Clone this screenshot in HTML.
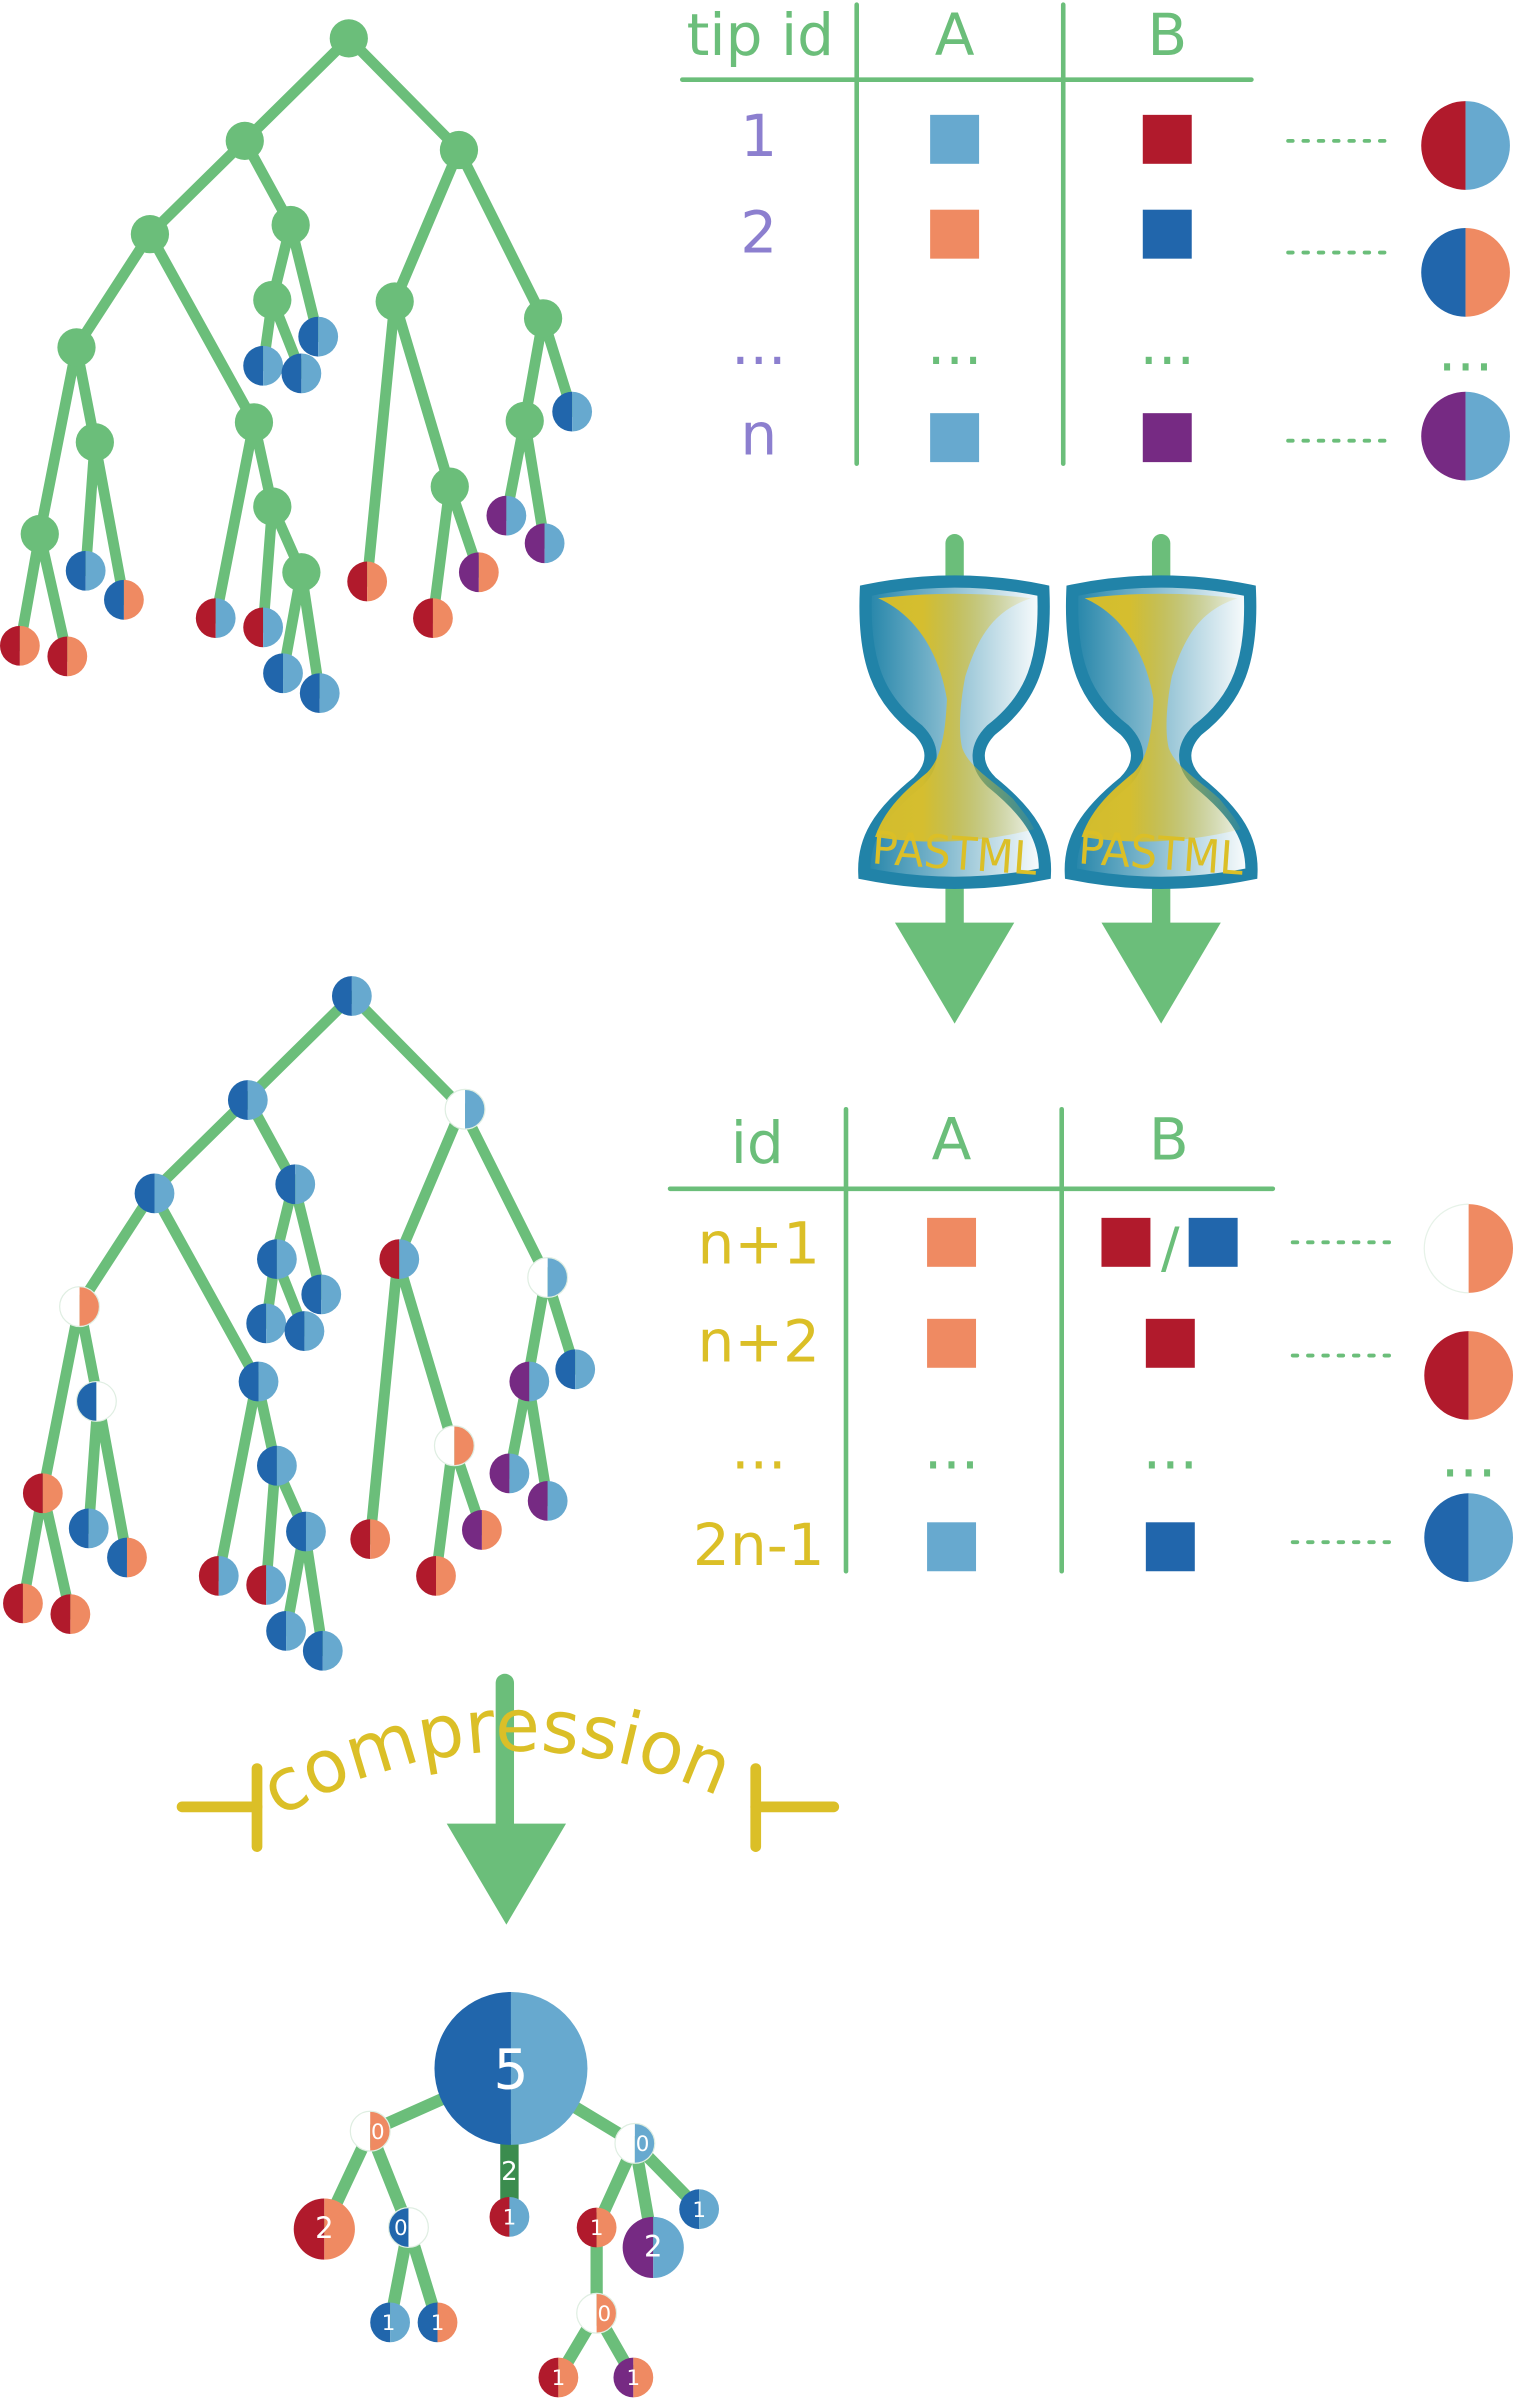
<!DOCTYPE html>
<html><head><meta charset="utf-8"><style>html,body{margin:0;padding:0;background:#fff}svg{display:block}</style></head><body>
<svg width="1513" height="2399" viewBox="0 0 989 1568" xmlns="http://www.w3.org/2000/svg" font-family="DejaVu Sans, Liberation Sans, sans-serif">
<defs>
<path id="L" d="M0-13A13 13 0 0 0 0 13Z"/>
<path id="R" d="M0-13A13 13 0 0 1 0 13Z"/>
<circle id="W" r="13" fill="none" stroke="#dfeee2" stroke-width="0.8"/>
<path id="BL" d="M0-29A29 29 0 0 0 0 29Z"/>
<path id="BR" d="M0-29A29 29 0 0 1 0 29Z"/>
<path id="ML" d="M0-20A20 20 0 0 0 0 20Z"/>
<path id="MR" d="M0-20A20 20 0 0 1 0 20Z"/>
<path id="HL" d="M0-50A50 50 0 0 0 0 50Z"/>
<path id="HR" d="M0-50A50 50 0 0 1 0 50Z"/>
<g id="edges" stroke="#6BBE7A" stroke-width="7" stroke-linecap="round" fill="none">
<path d="M228 25L160 92M228 25L300 98M160 92L98 153M160 92L190 147M190 147L178 196M190 147L208 220M178 196L172 239M178 196L197 244M98 153L50 227M98 153L166 276M50 227L26 349M50 227L62 289M26 349L13 422M26 349L44 429M62 289L56 373M62 289L81 392M166 276L141 404M166 276L178 331M178 331L172 410M178 331L197 374M197 374L185 440M197 374L209 453M300 98L258 197M300 98L355 208M258 197L240 380M258 197L294 318M294 318L283 404M294 318L313 374M355 208L343 275M355 208L374 269M343 275L331 337M343 275L356 355"/>
</g>
<g id="leaves">
<use href="#L" x="13" y="422" fill="#B11A2C"/><use href="#R" x="13" y="422" fill="#EF8A62"/>
<use href="#L" x="44" y="429" fill="#B11A2C"/><use href="#R" x="44" y="429" fill="#EF8A62"/>
<use href="#L" x="56" y="373" fill="#2166AC"/><use href="#R" x="56" y="373" fill="#67A9CF"/>
<use href="#L" x="81" y="392" fill="#2166AC"/><use href="#R" x="81" y="392" fill="#EF8A62"/>
<use href="#L" x="141" y="404" fill="#B11A2C"/><use href="#R" x="141" y="404" fill="#67A9CF"/>
<use href="#L" x="172" y="410" fill="#B11A2C"/><use href="#R" x="172" y="410" fill="#67A9CF"/>
<use href="#L" x="185" y="440" fill="#2166AC"/><use href="#R" x="185" y="440" fill="#67A9CF"/>
<use href="#L" x="209" y="453" fill="#2166AC"/><use href="#R" x="209" y="453" fill="#67A9CF"/>
<use href="#L" x="172" y="239" fill="#2166AC"/><use href="#R" x="172" y="239" fill="#67A9CF"/>
<use href="#L" x="197" y="244" fill="#2166AC"/><use href="#R" x="197" y="244" fill="#67A9CF"/>
<use href="#L" x="208" y="220" fill="#2166AC"/><use href="#R" x="208" y="220" fill="#67A9CF"/>
<use href="#L" x="240" y="380" fill="#B11A2C"/><use href="#R" x="240" y="380" fill="#EF8A62"/>
<use href="#L" x="283" y="404" fill="#B11A2C"/><use href="#R" x="283" y="404" fill="#EF8A62"/>
<use href="#L" x="313" y="374" fill="#762A83"/><use href="#R" x="313" y="374" fill="#EF8A62"/>
<use href="#L" x="374" y="269" fill="#2166AC"/><use href="#R" x="374" y="269" fill="#67A9CF"/>
<use href="#L" x="331" y="337" fill="#762A83"/><use href="#R" x="331" y="337" fill="#67A9CF"/>
<use href="#L" x="356" y="355" fill="#762A83"/><use href="#R" x="356" y="355" fill="#67A9CF"/>
</g>
<linearGradient id="gb" x1="0" x2="1" y1="0" y2="0"><stop offset="0" stop-color="#2183A8"/><stop offset="1" stop-color="#ffffff"/></linearGradient>
<linearGradient id="gy" x1="0" x2="1" y1="0" y2="0"><stop offset="0.3" stop-color="#DBBF27"/><stop offset="1" stop-color="#DBBF27" stop-opacity="0.1"/></linearGradient>
<g id="hg">
<path d="M-58 9Q0-3 58 9C60 55 50 80 24 100C14 110 12 122 24 134C50 155 60 172 59 194Q0 206-59 194C-60 172-50 155-24 134C-12 122-14 110-24 100C-50 80-60 55-58 9Z" fill="url(#gb)" stroke="#2183A8" stroke-width="8"/>
<path d="M-50 14Q0 8 50 14C25 22 15 40 7 65C4 80 2 100 5 112C10 125 25 133 38 145C46 155 50 160 52 165Q0 178-52 170C-45 150-30 138-18 128C-8 118-6 100-5 80C-10 50-25 25-50 14Z" fill="url(#gy)" opacity="0.95"/>
<text x="0" y="191" font-size="30" fill="#DBBF27" text-anchor="middle" textLength="108" lengthAdjust="spacingAndGlyphs" transform="rotate(4 0 180)">PASTML</text>
</g>
</defs>

<!-- tree 1 -->
<use href="#edges"/>
<g fill="#6BBE7A">
<circle cx="228" cy="25" r="12.5"/><circle cx="160" cy="92" r="12.5"/><circle cx="300" cy="98" r="12.5"/><circle cx="98" cy="153" r="12.5"/><circle cx="190" cy="147" r="12.5"/><circle cx="178" cy="196" r="12.5"/><circle cx="50" cy="227" r="12.5"/><circle cx="166" cy="276" r="12.5"/><circle cx="62" cy="289" r="12.5"/><circle cx="26" cy="349" r="12.5"/><circle cx="178" cy="331" r="12.5"/><circle cx="197" cy="374" r="12.5"/><circle cx="258" cy="197" r="12.5"/><circle cx="355" cy="208" r="12.5"/><circle cx="294" cy="318" r="12.5"/><circle cx="343" cy="275" r="12.5"/>
</g>
<use href="#leaves"/>

<!-- table 1 -->
<g stroke="#6BBE7A" stroke-width="3" stroke-linecap="round">
<line x1="560" y1="3" x2="560" y2="303"/><line x1="695" y1="3" x2="695" y2="303"/><line x1="446" y1="52" x2="818" y2="52"/>
</g>
<g font-size="38" fill="#6BBE7A" text-anchor="middle">
<text x="497" y="36">tip id</text><text x="624" y="36">A</text><text x="763" y="36">B</text>
<text x="624" y="238">...</text><text x="763" y="238">...</text><text x="958" y="242">...</text>
</g>
<g font-size="38" fill="#8C7FCF" text-anchor="middle">
<text x="496" y="102">1</text><text x="496" y="165">2</text><text x="496" y="238">...</text><text x="496" y="297">n</text>
</g>
<rect x="608" y="75" width="32" height="32" fill="#67A9CF"/><rect x="747" y="75" width="32" height="32" fill="#B11A2C"/>
<rect x="608" y="137" width="32" height="32" fill="#EF8A62"/><rect x="747" y="137" width="32" height="32" fill="#2166AC"/>
<rect x="608" y="270" width="32" height="32" fill="#67A9CF"/><rect x="747" y="270" width="32" height="32" fill="#762A83"/>
<g stroke="#6BBE7A" stroke-width="2.5" stroke-dasharray="3 7" stroke-linecap="round">
<line x1="842" y1="92" x2="906" y2="92"/><line x1="842" y1="165" x2="906" y2="165"/><line x1="842" y1="288" x2="906" y2="288"/>
<line x1="845" y1="812" x2="909" y2="812"/><line x1="845" y1="886" x2="909" y2="886"/><line x1="845" y1="1008" x2="909" y2="1008"/>
</g>
<use href="#BL" x="958" y="95" fill="#B11A2C"/><use href="#BR" x="958" y="95" fill="#67A9CF"/>
<use href="#BL" x="958" y="178" fill="#2166AC"/><use href="#BR" x="958" y="178" fill="#EF8A62"/>
<use href="#BL" x="958" y="285" fill="#762A83"/><use href="#BR" x="958" y="285" fill="#67A9CF"/>

<!-- PASTML -->
<g stroke="#6BBE7A" stroke-width="12" stroke-linecap="round"><line x1="624" y1="355" x2="624" y2="385"/><line x1="759" y1="355" x2="759" y2="385"/></g>
<rect x="618" y="575" width="12" height="30" fill="#6BBE7A"/><rect x="753" y="575" width="12" height="30" fill="#6BBE7A"/>
<polygon points="585,603 663,603 624,669" fill="#6BBE7A"/><polygon points="720,603 798,603 759,669" fill="#6BBE7A"/>
<use href="#hg" transform="translate(624 377)"/>
<use href="#hg" transform="translate(759 377)"/>

<!-- tree 2 -->
<g transform="translate(2 626)">
<use href="#edges"/>
<use href="#leaves"/>
<use href="#L" x="228" y="25" fill="#2166AC"/><use href="#R" x="228" y="25" fill="#67A9CF"/>
<use href="#L" x="160" y="93" fill="#2166AC"/><use href="#R" x="160" y="93" fill="#67A9CF"/>
<use href="#L" x="302" y="99" fill="#fff"/><use href="#R" x="302" y="99" fill="#67A9CF"/><use href="#W" x="302" y="99"/>
<use href="#L" x="99" y="154" fill="#2166AC"/><use href="#R" x="99" y="154" fill="#67A9CF"/>
<use href="#L" x="191" y="148" fill="#2166AC"/><use href="#R" x="191" y="148" fill="#67A9CF"/>
<use href="#L" x="179" y="197" fill="#2166AC"/><use href="#R" x="179" y="197" fill="#67A9CF"/>
<use href="#L" x="50" y="228" fill="#fff"/><use href="#R" x="50" y="228" fill="#EF8A62"/><use href="#W" x="50" y="228"/>
<use href="#L" x="167" y="277" fill="#2166AC"/><use href="#R" x="167" y="277" fill="#67A9CF"/>
<use href="#L" x="61" y="290" fill="#2166AC"/><use href="#R" x="61" y="290" fill="#fff"/><use href="#W" x="61" y="290"/>
<use href="#L" x="26" y="350" fill="#B11A2C"/><use href="#R" x="26" y="350" fill="#EF8A62"/>
<use href="#L" x="179" y="332" fill="#2166AC"/><use href="#R" x="179" y="332" fill="#67A9CF"/>
<use href="#L" x="198" y="375" fill="#2166AC"/><use href="#R" x="198" y="375" fill="#67A9CF"/>
<use href="#L" x="259" y="197" fill="#B11A2C"/><use href="#R" x="259" y="197" fill="#67A9CF"/>
<use href="#L" x="356" y="209" fill="#fff"/><use href="#R" x="356" y="209" fill="#67A9CF"/><use href="#W" x="356" y="209"/>
<use href="#L" x="295" y="319" fill="#fff"/><use href="#R" x="295" y="319" fill="#EF8A62"/><use href="#W" x="295" y="319"/>
<use href="#L" x="344" y="277" fill="#762A83"/><use href="#R" x="344" y="277" fill="#67A9CF"/>
</g>

<!-- table 2 -->
<g stroke="#6BBE7A" stroke-width="3" stroke-linecap="round">
<line x1="553" y1="725" x2="553" y2="1027"/><line x1="694" y1="725" x2="694" y2="1027"/><line x1="438" y1="777" x2="832" y2="777"/>
</g>
<g font-size="38" fill="#6BBE7A" text-anchor="middle">
<text x="495" y="760">id</text><text x="622" y="758">A</text><text x="764" y="758">B</text>
<text x="622" y="960">...</text><text x="765" y="960">...</text><text x="960" y="965">...</text>
</g>
<g font-size="38" fill="#DBBF27" text-anchor="middle">
<text x="496" y="826">n+1</text><text x="496" y="890">n+2</text><text x="496" y="960">...</text><text x="496" y="1023">2n-1</text>
</g>
<rect x="606" y="796" width="32" height="32" fill="#EF8A62"/><rect x="720" y="796" width="32" height="32" fill="#B11A2C"/>
<text x="765" y="828" font-size="36" fill="#6BBE7A" text-anchor="middle">/</text>
<rect x="777" y="796" width="32" height="32" fill="#2166AC"/>
<rect x="606" y="862" width="32" height="32" fill="#EF8A62"/><rect x="749" y="862" width="32" height="32" fill="#B11A2C"/>
<rect x="606" y="995" width="32" height="32" fill="#67A9CF"/><rect x="749" y="995" width="32" height="32" fill="#2166AC"/>
<use href="#BL" x="960" y="816" fill="#fff"/><use href="#BR" x="960" y="816" fill="#EF8A62"/>
<path d="M960 787A29 29 0 0 0 960 845" fill="none" stroke="#e6f2e8" stroke-width="0.8"/>
<use href="#BL" x="960" y="899" fill="#B11A2C"/><use href="#BR" x="960" y="899" fill="#EF8A62"/>
<use href="#BL" x="960" y="1005" fill="#2166AC"/><use href="#BR" x="960" y="1005" fill="#67A9CF"/>

<!-- compression -->
<line x1="330" y1="1100" x2="330" y2="1195" stroke="#6BBE7A" stroke-width="12" stroke-linecap="round"/>
<polygon points="292,1192 370,1192 331,1258" fill="#6BBE7A"/>
<g stroke="#DBBF27" stroke-width="7" stroke-linecap="round" fill="none">
<line x1="119" y1="1181" x2="168" y2="1181"/><line x1="168" y1="1156" x2="168" y2="1207"/>
<line x1="494" y1="1181" x2="545" y2="1181"/><line x1="494" y1="1156" x2="494" y2="1207"/>
</g>
<path id="arc" d="M182 1188Q330 1105 482 1180" fill="none"/>
<text font-size="48" fill="#DBBF27"><textPath href="#arc" textLength="300" lengthAdjust="spacingAndGlyphs">compression</textPath></text>

<!-- compressed tree -->
<g stroke="#6BBE7A" stroke-width="8" stroke-linecap="round">
<line x1="334" y1="1352" x2="242" y2="1393"/><line x1="334" y1="1352" x2="415" y2="1401"/>
<line x1="242" y1="1393" x2="212" y2="1457"/><line x1="242" y1="1393" x2="267" y2="1456"/>
<line x1="267" y1="1456" x2="255" y2="1518"/><line x1="267" y1="1456" x2="286" y2="1518"/>
<line x1="415" y1="1401" x2="390" y2="1456"/><line x1="415" y1="1401" x2="427" y2="1469"/><line x1="415" y1="1401" x2="457" y2="1444"/>
<line x1="390" y1="1456" x2="390" y2="1512"/><line x1="390" y1="1512" x2="365" y2="1554"/><line x1="390" y1="1512" x2="414" y2="1554"/>
</g>
<rect x="327" y="1395" width="12" height="50" fill="#3B8C4E"/>
<use href="#HL" x="334" y="1352" fill="#2166AC"/><use href="#HR" x="334" y="1352" fill="#67A9CF"/>
<use href="#L" x="242" y="1393" fill="#fff"/><use href="#R" x="242" y="1393" fill="#EF8A62"/><use href="#W" x="242" y="1393"/>
<use href="#ML" x="212" y="1457" fill="#B11A2C"/><use href="#MR" x="212" y="1457" fill="#EF8A62"/>
<use href="#L" x="267" y="1456" fill="#2166AC"/><use href="#R" x="267" y="1456" fill="#fff"/><use href="#W" x="267" y="1456"/>
<use href="#L" x="255" y="1518" fill="#2166AC"/><use href="#R" x="255" y="1518" fill="#67A9CF"/>
<use href="#L" x="286" y="1518" fill="#2166AC"/><use href="#R" x="286" y="1518" fill="#EF8A62"/>
<use href="#L" x="333" y="1449" fill="#B11A2C"/><use href="#R" x="333" y="1449" fill="#67A9CF"/>
<use href="#L" x="415" y="1401" fill="#fff"/><use href="#R" x="415" y="1401" fill="#67A9CF"/><use href="#W" x="415" y="1401"/>
<use href="#L" x="390" y="1456" fill="#B11A2C"/><use href="#R" x="390" y="1456" fill="#EF8A62"/>
<use href="#ML" x="427" y="1469" fill="#762A83"/><use href="#MR" x="427" y="1469" fill="#67A9CF"/>
<use href="#L" x="457" y="1444" fill="#2166AC"/><use href="#R" x="457" y="1444" fill="#67A9CF"/>
<use href="#L" x="390" y="1512" fill="#fff"/><use href="#R" x="390" y="1512" fill="#EF8A62"/><use href="#W" x="390" y="1512"/>
<use href="#L" x="365" y="1554" fill="#B11A2C"/><use href="#R" x="365" y="1554" fill="#EF8A62"/>
<use href="#L" x="414" y="1554" fill="#762A83"/><use href="#R" x="414" y="1554" fill="#EF8A62"/>
<g fill="#fff" text-anchor="middle" font-size="14">
<text x="334" y="1365" font-size="36">5</text>
<text x="247" y="1398">0</text><text x="212" y="1463" font-size="19">2</text><text x="262" y="1461">0</text>
<text x="254" y="1523">1</text><text x="286" y="1523">1</text>
<text x="333" y="1425" font-size="17">2</text><text x="333" y="1454">1</text>
<text x="420" y="1406">0</text><text x="390" y="1461">1</text><text x="427" y="1475" font-size="19">2</text><text x="457" y="1449">1</text>
<text x="395" y="1517">0</text><text x="365" y="1559">1</text><text x="414" y="1559">1</text>
</g>
</svg>
</body></html>
